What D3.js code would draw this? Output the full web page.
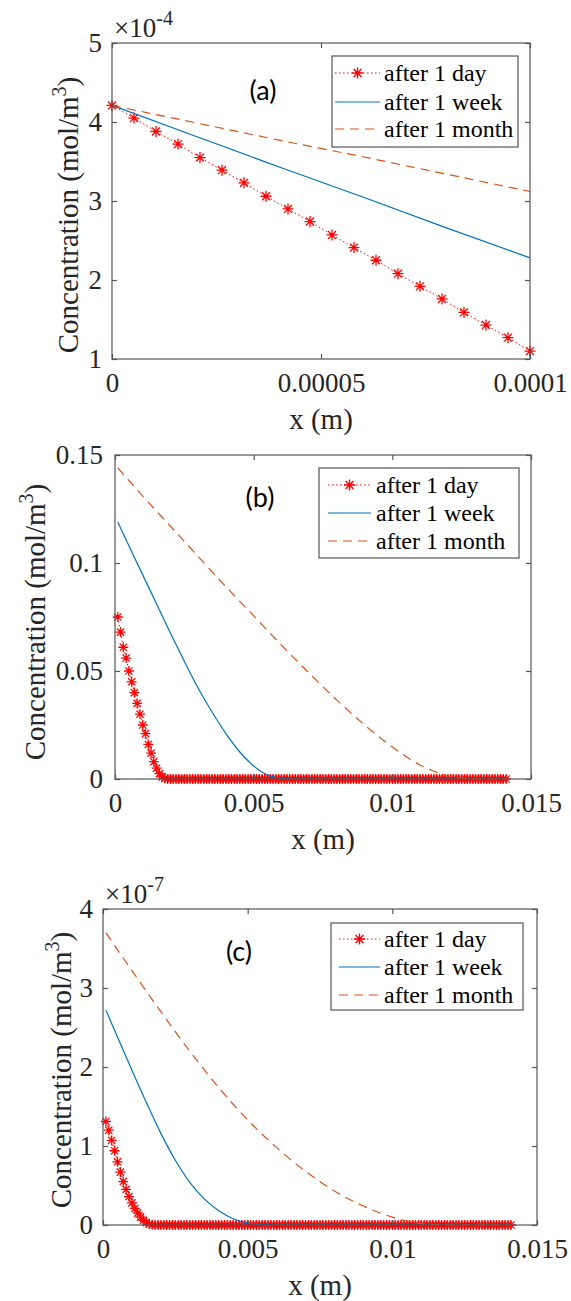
<!DOCTYPE html>
<html>
<head>
<meta charset="utf-8">
<script src="https://cdn.jsdelivr.net/npm/d3@7"></script>
<style>
  body { margin: 0; background: #fff; }
  svg { display: block; background: #fff; }
  svg text { font-family: "Liberation Serif", "Times New Roman", Times, "DejaVu Serif", serif; }
  svg text.tag { font-family: Lato, "Liberation Sans", sans-serif; }
</style>
</head>
<body>
<script>
// ---- data ----
// legend entries
var seriesNames = ["after 1 day", "after 1 week", "after 1 month"];

// panel (a): x in m, concentration in units of 1e-4 mol/m3
var xDayA = [0, 0.00000526, 0.00001053, 0.00001579, 0.00002105, 0.00002632, 0.00003158,
  0.00003684, 0.00004211, 0.00004737, 0.00005263, 0.00005789, 0.00006316, 0.00006842,
  0.00007368, 0.00007895, 0.00008421, 0.00008947, 0.00009474, 0.0001];
var dayA = [4.21, 4.05, 3.88, 3.72, 3.55, 3.39, 3.23, 3.06, 2.90, 2.74,
  2.57, 2.41, 2.25, 2.08, 1.92, 1.76, 1.59, 1.43, 1.27, 1.10];
var xLineA = [0, 0.00002, 0.00004, 0.00006, 0.00008, 0.0001];
var weekA = [4.21, 3.82, 3.43, 3.05, 2.66, 2.28];
var monthA = [4.21, 3.99, 3.77, 3.56, 3.34, 3.12];
var xTicksA = [0, 0.00005, 0.0001];
var xTickLabelsA = ["0", "0.00005", "0.0001"];
var yTicksA = [1, 2, 3, 4, 5];
var yTickLabelsA = ["1", "2", "3", "4", "5"];

// panels (b) and (c): day grid, x in mm
var xGridMm = [
  0.1, 0.2, 0.3, 0.4, 0.5, 0.6, 0.7, 0.8, 0.9, 1.0, 1.1, 1.2, 1.3, 1.4, 1.5, 1.6, 1.7, 1.8, 1.9, 2.0,
  2.1, 2.2, 2.3, 2.4, 2.5, 2.6, 2.7, 2.8, 2.9, 3.0, 3.1, 3.2, 3.3, 3.4, 3.5, 3.6, 3.7, 3.8, 3.9, 4.0,
  4.1, 4.2, 4.3, 4.4, 4.5, 4.6, 4.7, 4.8, 4.9, 5.0, 5.1, 5.2, 5.3, 5.4, 5.5, 5.6, 5.7, 5.8, 5.9, 6.0,
  6.1, 6.2, 6.3, 6.4, 6.5, 6.6, 6.7, 6.8, 6.9, 7.0, 7.1, 7.2, 7.3, 7.4, 7.5, 7.6, 7.7, 7.8, 7.9, 8.0,
  8.1, 8.2, 8.3, 8.4, 8.5, 8.6, 8.7, 8.8, 8.9, 9.0, 9.1, 9.2, 9.3, 9.4, 9.5, 9.6, 9.7, 9.8, 9.9, 10.0,
  10.1, 10.2, 10.3, 10.4, 10.5, 10.6, 10.7, 10.8, 10.9, 11.0, 11.1, 11.2, 11.3, 11.4, 11.5, 11.6, 11.7, 11.8, 11.9, 12.0,
  12.1, 12.2, 12.3, 12.4, 12.5, 12.6, 12.7, 12.8, 12.9, 13.0, 13.1, 13.2, 13.3, 13.4, 13.5, 13.6, 13.7, 13.8, 13.9, 14.0,
  14.1];

// panel (b): concentration in mol/m3
var dayB = [
  0.075, 0.068, 0.061, 0.056, 0.050, 0.045, 0.040, 0.035, 0.030, 0.025, 0.021, 0.016, 0.012, 0.008, 0.005, 0.0025, 0.001, 0.0003, 0, 0,
  0, 0, 0, 0, 0, 0, 0, 0, 0, 0, 0, 0, 0, 0, 0, 0, 0, 0, 0, 0,
  0, 0, 0, 0, 0, 0, 0, 0, 0, 0, 0, 0, 0, 0, 0, 0, 0, 0, 0, 0,
  0, 0, 0, 0, 0, 0, 0, 0, 0, 0, 0, 0, 0, 0, 0, 0, 0, 0, 0, 0,
  0, 0, 0, 0, 0, 0, 0, 0, 0, 0, 0, 0, 0, 0, 0, 0, 0, 0, 0, 0,
  0, 0, 0, 0, 0, 0, 0, 0, 0, 0, 0, 0, 0, 0, 0, 0, 0, 0, 0, 0,
  0, 0, 0, 0, 0, 0, 0, 0, 0, 0, 0, 0, 0, 0, 0, 0, 0, 0, 0, 0,
  0];
var xWeekB = [0.1, 0.5, 1, 1.5, 2, 2.5, 3, 3.5, 4, 4.5, 5, 5.5, 6, 6.5, 14.1];
var weekB = [0.119, 0.108, 0.0945, 0.081, 0.0675, 0.0545, 0.042, 0.031, 0.021, 0.0125, 0.006, 0.0018, 0.0003, 0, 0];
var xMonthB = [0.1, 1, 2, 3, 4, 5, 6, 7, 8, 9, 10, 11, 12, 12.5, 13, 14.1];
var monthB = [0.144, 0.131, 0.117, 0.103, 0.089, 0.0755, 0.062, 0.049, 0.0365, 0.025, 0.0148, 0.0065, 0.0015, 0.0004, 0, 0];
var xTicksBC = [0, 0.005, 0.01, 0.015];
var xTickLabelsBC = ["0", "0.005", "0.01", "0.015"];
var yTicksB = [0, 0.05, 0.1, 0.15];
var yTickLabelsB = ["0", "0.05", "0.1", "0.15"];

// panel (c): concentration in units of 1e-7 mol/m3
var dayC = [
  1.31, 1.20, 1.07, 0.94, 0.80, 0.67, 0.55, 0.45, 0.36, 0.28, 0.21, 0.15, 0.10, 0.06, 0.03, 0.012, 0.003, 0, 0, 0,
  0, 0, 0, 0, 0, 0, 0, 0, 0, 0, 0, 0, 0, 0, 0, 0, 0, 0, 0, 0,
  0, 0, 0, 0, 0, 0, 0, 0, 0, 0, 0, 0, 0, 0, 0, 0, 0, 0, 0, 0,
  0, 0, 0, 0, 0, 0, 0, 0, 0, 0, 0, 0, 0, 0, 0, 0, 0, 0, 0, 0,
  0, 0, 0, 0, 0, 0, 0, 0, 0, 0, 0, 0, 0, 0, 0, 0, 0, 0, 0, 0,
  0, 0, 0, 0, 0, 0, 0, 0, 0, 0, 0, 0, 0, 0, 0, 0, 0, 0, 0, 0,
  0, 0, 0, 0, 0, 0, 0, 0, 0, 0, 0, 0, 0, 0, 0, 0, 0, 0, 0, 0,
  0];
var xWeekC = [0.1, 0.5, 1, 1.5, 2, 2.5, 3, 3.5, 4, 4.5, 5, 5.5, 6, 14.1];
var weekC = [2.72, 2.38, 1.96, 1.55, 1.16, 0.82, 0.54, 0.33, 0.18, 0.08, 0.025, 0.005, 0, 0];
var xMonthC = [0.1, 1, 2, 3, 4, 5, 6, 7, 8, 9, 10, 10.5, 11, 11.5, 12, 14.1];
var monthC = [3.70, 3.22, 2.70, 2.20, 1.74, 1.33, 0.98, 0.68, 0.43, 0.24, 0.10, 0.05, 0.018, 0.004, 0, 0];
var yTicksC = [0, 1, 2, 3, 4];
var yTickLabelsC = ["0", "1", "2", "3", "4"];

// ---- drawing ----
var svgWidth = 571;
var svgHeight = 1301;
var colDay = "#ff0000", colWeek = "#0072bd", colMonth = "#d95319";
var axisCol = "#262626", boxCol = "#555555";

var svg = d3.select("body")
  .append("svg")
  .attr("width", svgWidth)
  .attr("height", svgHeight);

function pairs(xs, ys, k) {
  return xs.map((d, i) => [d * k, ys[i]]);
}

// star marker like matlab '*'
function star(r) {
  var k = r * 0.72;
  return `M${-r},0H${r}M0,${-r}V${r}M${-k},${-k}L${k},${k}M${-k},${k}L${k},${-k}`;
}

function drawPanel(p) {
  var x = d3.scaleLinear().domain(p.xDomain).range([p.left, p.right]);
  var y = d3.scaleLinear().domain(p.yDomain).range([p.bottom, p.top]);
  var g = svg.append("g");

  var line = d3.line().x(d => x(d[0])).y(d => y(d[1]));

  // day: dotted line + stars
  g.append("path")
    .attr("d", line(p.day))
    .attr("fill", "none")
    .attr("stroke", colDay)
    .attr("stroke-width", 1)
    .attr("stroke-dasharray", "1.5,2.5");
  g.append("g").selectAll("path")
    .data(p.day)
    .join("path")
    .attr("transform", d => `translate(${x(d[0])},${y(d[1])})`)
    .attr("d", star(p.starR))
    .attr("stroke", colDay)
    .attr("stroke-width", 1.3)
    .attr("fill", "none");

  // week: solid
  g.append("path")
    .attr("d", line.curve(p.curve)(p.week))
    .attr("fill", "none")
    .attr("stroke", colWeek)
    .attr("stroke-width", 1.2);

  // month: dashed
  g.append("path")
    .attr("d", line.curve(p.curve)(p.month))
    .attr("fill", "none")
    .attr("stroke", colMonth)
    .attr("stroke-width", 1.2)
    .attr("stroke-dasharray", "9,6");

  // box
  g.append("rect")
    .attr("x", p.left).attr("y", p.top)
    .attr("width", p.right - p.left).attr("height", p.bottom - p.top)
    .attr("fill", "none")
    .attr("stroke", boxCol)
    .attr("stroke-width", 1.2);

  // axes, ticks pointing inward
  var bottomAxis = d3.axisBottom(x).tickValues(p.xTicks)
    .tickFormat((d, i) => p.xTickLabels[i]).tickSize(-5).tickPadding(14);
  var leftAxis = d3.axisLeft(y).tickValues(p.yTicks)
    .tickFormat((d, i) => p.yTickLabels[i]).tickSize(-5).tickPadding(p.yPad);
  var topAxis = d3.axisTop(x).tickValues(p.xTicks).tickFormat("").tickSize(-5);
  var rightAxis = d3.axisRight(y).tickValues(p.yTicks).tickFormat("").tickSize(-5);

  [[bottomAxis, `translate(0,${p.bottom})`], [leftAxis, `translate(${p.left},0)`],
   [topAxis, `translate(0,${p.top})`], [rightAxis, `translate(${p.right},0)`]].forEach(function(a) {
    var ax = g.append("g").attr("transform", a[1]).call(a[0]);
    ax.attr("font-family", null).attr("font-size", null);
    ax.select(".domain").remove();
    ax.selectAll("line").attr("stroke", boxCol).attr("stroke-width", 1.2);
    ax.selectAll("text")
      .attr("fill", axisCol)
      .style("font-size", "27px");
  });

  // x label
  g.append("text")
    .attr("x", (p.left + p.right) / 2)
    .attr("y", p.bottom + 70)
    .attr("text-anchor", "middle")
    .attr("fill", axisCol)
    .style("font-size", "29px")
    .text("x (m)");

  // y label
  var yl = g.append("text")
    .attr("transform", `translate(${p.yLabelX},${p.yLabelY}) rotate(-90)`)
    .attr("text-anchor", "middle")
    .attr("fill", axisCol)
    .style("font-size", "29px");
  yl.append("tspan").text("Concentration (mol/m");
  yl.append("tspan").attr("dy", -12).style("font-size", "20px").text("3");
  yl.append("tspan").attr("dy", 12).text(")");

  // exponent
  if (p.exponent) {
    var ex = g.append("text")
      .attr("x", p.left + 2)
      .attr("y", p.top - 6)
      .attr("fill", axisCol)
      .style("font-size", "27px");
    ex.append("tspan").text("\u00d710");
    ex.append("tspan").attr("dy", -12).style("font-size", "20px").text(p.exponent);
  }

  // panel tag
  g.append("text")
    .attr("class", "tag")
    .attr("x", p.tag[1])
    .attr("y", p.tag[2])
    .attr("text-anchor", "middle")
    .attr("fill", "#000")
    .style("font-size", "27px")
    .text(p.tag[0]);

  // legend
  var L = p.legend;
  g.append("rect")
    .attr("x", L.x).attr("y", L.y)
    .attr("width", L.w).attr("height", L.h)
    .attr("fill", "#fff")
    .attr("stroke", boxCol)
    .attr("stroke-width", 1.2);
  var styles = [
    {color: colDay, dash: "1.5,2.5", marker: true},
    {color: colWeek, dash: null, marker: false},
    {color: colMonth, dash: "9,6", marker: false}
  ];
  seriesNames.forEach(function(name, i) {
    var cy = L.rows[i];
    g.append("line")
      .attr("x1", L.x1).attr("x2", L.x2)
      .attr("y1", cy).attr("y2", cy)
      .attr("stroke", styles[i].color)
      .attr("stroke-width", 1.2)
      .attr("stroke-dasharray", styles[i].dash);
    if (styles[i].marker) {
      g.append("path")
        .attr("transform", `translate(${(L.x1 + L.x2) / 2},${cy})`)
        .attr("d", star(5.5))
        .attr("stroke", colDay)
        .attr("stroke-width", 1.4)
        .attr("fill", "none");
    }
    g.append("text")
      .attr("x", L.tx)
      .attr("y", cy + 8)
      .attr("fill", "#000")
      .style("font-size", "24px")
      .text(name);
  });
}

drawPanel({
  left: 112, right: 530, top: 43, bottom: 359,
  xDomain: [0, 0.0001], yDomain: [1, 5],
  xTicks: xTicksA, xTickLabels: xTickLabelsA,
  yTicks: yTicksA, yTickLabels: yTickLabelsA, yPad: 10,
  day: pairs(xDayA, dayA, 1), week: pairs(xLineA, weekA, 1), month: pairs(xLineA, monthA, 1),
  curve: d3.curveLinear, starR: 5.5,
  yLabelX: 78, yLabelY: 215, exponent: "-4",
  tag: ["(a)", 263, 100],
  legend: {x: 332, y: 56, w: 186, h: 91, rows: [73, 102, 129], x1: 335, x2: 380, tx: 384}
});

drawPanel({
  left: 115, right: 531, top: 455, bottom: 779,
  xDomain: [0, 0.015], yDomain: [0, 0.15],
  xTicks: xTicksBC, xTickLabels: xTickLabelsBC,
  yTicks: yTicksB, yTickLabels: yTickLabelsB, yPad: 12,
  day: pairs(xGridMm, dayB, 0.001), week: pairs(xWeekB, weekB, 0.001), month: pairs(xMonthB, monthB, 0.001),
  curve: d3.curveMonotoneX, starR: 5,
  yLabelX: 45, yLabelY: 622, exponent: null,
  tag: ["(b)", 260, 507],
  legend: {x: 319, y: 468, w: 200, h: 90, rows: [485, 513, 541], x1: 328, x2: 371, tx: 376}
});

drawPanel({
  left: 103, right: 537, top: 909, bottom: 1225,
  xDomain: [0, 0.015], yDomain: [0, 4],
  xTicks: xTicksBC, xTickLabels: xTickLabelsBC,
  yTicks: yTicksC, yTickLabels: yTickLabelsC, yPad: 10,
  day: pairs(xGridMm, dayC, 0.001), week: pairs(xWeekC, weekC, 0.001), month: pairs(xMonthC, monthC, 0.001),
  curve: d3.curveMonotoneX, starR: 5,
  yLabelX: 71, yLabelY: 1070, exponent: "-7",
  tag: ["(c)", 239, 961],
  legend: {x: 331, y: 923, w: 192, h: 87, rows: [939, 967, 995], x1: 339, x2: 380, tx: 384}
});
</script>
</body>
</html>
